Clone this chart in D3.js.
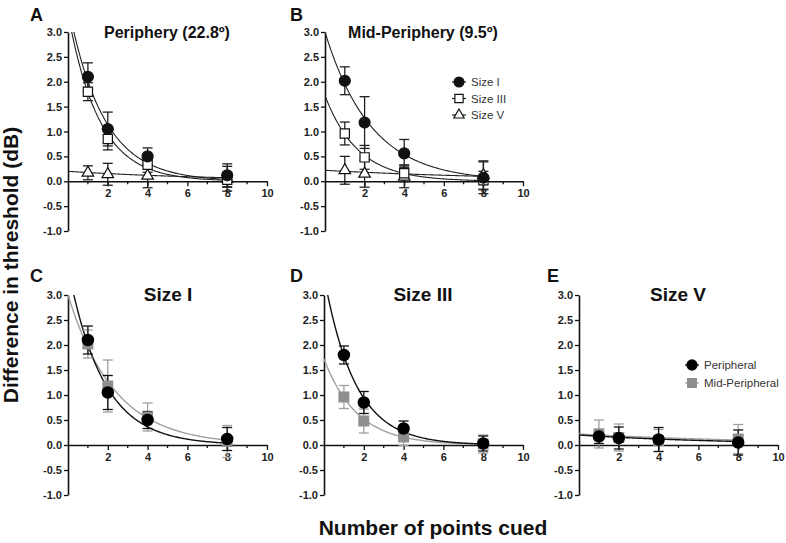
<!DOCTYPE html>
<html>
<head>
<meta charset="utf-8">
<script src="https://cdn.jsdelivr.net/npm/d3@7"></script>
<style>
  body { margin: 0; background: #fff; }
  svg { display: block; font-family: "Liberation Sans", Arial, sans-serif; }
</style>
</head>
<body>
<svg id="chart" width="786" height="543"></svg>
<script>
// number of points cued (x values of every series)
const pointsCued = [1, 2, 4, 8];
const sizeNames = ["Size I", "Size III", "Size V"];
const locNames = ["Peripheral", "Mid-Peripheral"];

// difference in threshold (dB), peripheral location (22.8 deg)
const periSizeI = [2.10, 1.05, 0.50, 0.12];
const periSizeIErr = [0.28, 0.34, 0.17, 0.23];
const periSizeIII = [1.80, 0.85, 0.33, 0.03];
const periSizeIIIErr = [0.18, 0.22, 0.15, 0.15];
const periSizeV = [0.17, 0.14, 0.11, 0.05];
const periSizeVErr = [0.14, 0.22, 0.24, 0.25];

// mid-peripheral location (9.5 deg)
const midSizeI = [2.02, 1.18, 0.56, 0.07];
const midSizeIErr = [0.28, 0.52, 0.28, 0.32];
const midSizeIII = [0.96, 0.48, 0.16, 0.02];
const midSizeIIIErr = [0.23, 0.24, 0.17, 0.18];
const midSizeV = [0.22, 0.15, 0.09, 0.12];
const midSizeVErr = [0.28, 0.27, 0.22, 0.29];

// one-phase decay fits  y = Y0 * exp(-K x), one entry per size
const periFitY0 = [3.55, 3.38, 0.20];
const periFitK = [0.57, 0.64, 0.13];
const midFitY0 = [3.00, 1.72, 0.22];
const midFitK = [0.43, 0.60, 0.10];

const yTickValues = [-1.0, -0.5, 0.0, 0.5, 1.0, 1.5, 2.0, 2.5, 3.0];
const xTickValues = [2, 4, 6, 8, 10];
const xMinorTicks = [1, 3, 5, 7, 9];

const svg = d3.select("#chart");

function makeSeries(loc, means, errs, y0s, ks) {
    return means.map((m, i) => ({
        loc: loc,
        size: i,
        name: sizeNames[i],
        points: pointsCued.map((x, j) => ({ x: x, y: m[j], e: errs[i][j] })),
        y0: y0s[i],
        k: ks[i]
    }));
}

const peri = makeSeries(0, [periSizeI, periSizeIII, periSizeV],
    [periSizeIErr, periSizeIIIErr, periSizeVErr], periFitY0, periFitK);
const mid = makeSeries(1, [midSizeI, midSizeIII, midSizeV],
    [midSizeIErr, midSizeIIIErr, midSizeVErr], midFitY0, midFitK);

// layout of the five panels
const panels = [
    { label: "A", title: "Periphery (22.8º)", xr: [68, 267], yr: [231, 32], lx: 30, ly: 21, tx: 167, ty: 38, tsize: 16,
      series: [peri[2], peri[1], peri[0]], mode: "size", legend: null },
    { label: "B", title: "Mid-Periphery (9.5º)", xr: [325, 523], yr: [231, 32], lx: 290, ly: 21, tx: 423, ty: 38, tsize: 16,
      series: [mid[2], mid[1], mid[0]], mode: "size", legend: { x: 459, y: 82, dy: 16.5, items: [mid[0], mid[1], mid[2]] } },
    { label: "C", title: "Size I", xr: [68, 267], yr: [495, 295], lx: 30, ly: 282, tx: 168, ty: 301, tsize: 19,
      series: [mid[0], peri[0]], mode: "loc", legend: null },
    { label: "D", title: "Size III", xr: [324, 523], yr: [495, 295], lx: 290, ly: 282, tx: 423, ty: 301, tsize: 19,
      series: [mid[1], peri[1]], mode: "loc", legend: null },
    { label: "E", title: "Size V", xr: [579, 778], yr: [495, 295], lx: 547, ly: 282, tx: 678, ty: 301, tsize: 19,
      series: [mid[2], peri[2]], mode: "loc", legend: { x: 692, y: 365, dy: 18, items: [peri[2], mid[2]] } }
];

const GRAY = "#8e8e8e";
const GRAY_LINE = "#a0a0a0";

function styleOf(s, mode) {
    if (mode === "size") {
        const shapes = [d3.symbolCircle, d3.symbolSquare, d3.symbolTriangle];
        const areas = [95, 85, 58];
        return {
            shape: shapes[s.size], area: areas[s.size],
            fill: s.size === 0 ? "#111" : "#fff", stroke: "#111",
            line: "#222", err: "#222", lw: 1.1
        };
    }
    if (s.loc === 0) {
        return { shape: d3.symbolCircle, area: 100, fill: "#000", stroke: "#000", line: "#111", err: "#111", lw: 1.4 };
    }
    return { shape: d3.symbolSquare, area: 95, fill: GRAY, stroke: GRAY, line: GRAY_LINE, err: GRAY_LINE, lw: 1.4 };
}

panels.forEach((p, pi) => {
    const x = d3.scaleLinear().domain([0, 10]).range(p.xr);
    const y = d3.scaleLinear().domain([-1, 3]).range(p.yr);
    const g = svg.append("g");

    // panel letter and title
    g.append("text").attr("x", p.lx).attr("y", p.ly)
        .attr("font-size", 18).attr("font-weight", "bold").attr("fill", "#111").text(p.label);
    g.append("text").attr("x", p.tx).attr("y", p.ty).attr("text-anchor", "middle")
        .attr("font-size", p.tsize).attr("font-weight", "bold").attr("fill", "#111").text(p.title);

    // axes
    const yAxis = d3.axisLeft(y).tickValues(yTickValues).tickSize(4).tickSizeOuter(0)
        .tickFormat(d => d.toFixed(1));
    const ya = g.append("g").attr("transform", `translate(${p.xr[0]},0)`).call(yAxis);

    const xAxis = d3.axisBottom(x).tickValues(xTickValues).tickSize(5).tickSizeOuter(0)
        .tickFormat(d3.format("d"));
    const xa = g.append("g").attr("transform", `translate(0,${y(0)})`).call(xAxis);
    xa.selectAll(".minor").data(xMinorTicks).enter().append("line")
        .attr("class", "minor").attr("x1", d => x(d)).attr("x2", d => x(d))
        .attr("y1", 0).attr("y2", 3).attr("stroke", "#111").attr("stroke-width", 1.3);

    [ya, xa].forEach(a => {
        a.attr("font-family", null).attr("font-size", null);
        a.select(".domain").attr("stroke", "#111").attr("stroke-width", 1.6);
        a.selectAll(".tick line").attr("stroke", "#111").attr("stroke-width", 1.3);
        a.selectAll(".tick text").attr("font-size", 11).attr("font-weight", "bold").attr("fill", "#222");
    });
    ya.selectAll(".tick text").attr("x", -6);
    xa.selectAll(".tick text").attr("y", 8);

    // fitted curves, clipped to the plotting area
    const clipId = "clip" + pi;
    g.append("clipPath").attr("id", clipId).append("rect")
        .attr("x", p.xr[0]).attr("y", p.yr[1])
        .attr("width", p.xr[1] - p.xr[0]).attr("height", p.yr[0] - p.yr[1]);
    const curveX = d3.range(0, 8.0001, 0.05);
    const line = d3.line().x(d => x(d[0])).y(d => y(d[1]));
    const curves = g.append("g").attr("clip-path", `url(#${clipId})`);
    p.series.forEach(s => {
        const st = styleOf(s, p.mode);
        curves.append("path")
            .datum(curveX.map(v => [v, s.y0 * Math.exp(-s.k * v)]))
            .attr("d", line).attr("fill", "none")
            .attr("stroke", st.line).attr("stroke-width", st.lw);
    });

    // error bars and markers
    p.series.forEach(s => {
        const st = styleOf(s, p.mode);
        const eb = g.append("g").attr("stroke", st.err).attr("stroke-width", 1.3);
        s.points.forEach(d => {
            const cx = x(d.x);
            eb.append("line").attr("x1", cx).attr("x2", cx).attr("y1", y(d.y - d.e)).attr("y2", y(d.y + d.e));
            [d.y - d.e, d.y + d.e].forEach(v => {
                eb.append("line").attr("x1", cx - 5).attr("x2", cx + 5).attr("y1", y(v)).attr("y2", y(v));
            });
        });
    });
    p.series.forEach(s => {
        const st = styleOf(s, p.mode);
        g.append("g").selectAll("path").data(s.points).enter().append("path")
            .attr("transform", d => `translate(${x(d.x)},${y(d.y)})`)
            .attr("d", d3.symbol().type(st.shape).size(st.area))
            .attr("fill", st.fill).attr("stroke", st.stroke).attr("stroke-width", 1.2);
    });

    // legend
    if (p.legend) {
        const lg = g.append("g");
        p.legend.items.forEach((s, i) => {
            const st = styleOf(s, p.mode);
            const ly = p.legend.y + i * p.legend.dy;
            lg.append("line").attr("x1", p.legend.x - 7).attr("x2", p.legend.x + 7)
                .attr("y1", ly).attr("y2", ly).attr("stroke", st.line).attr("stroke-width", 1.2);
            lg.append("path").attr("transform", `translate(${p.legend.x},${ly})`)
                .attr("d", d3.symbol().type(st.shape).size(st.area * 0.8))
                .attr("fill", st.fill).attr("stroke", st.stroke).attr("stroke-width", 1.2);
            lg.append("text").attr("x", p.legend.x + 12).attr("y", ly + 4)
                .attr("font-size", 11.5).attr("fill", "#333")
                .text(p.mode === "size" ? s.name : locNames[s.loc]);
        });
    }
});

// shared axis titles
svg.append("text")
    .attr("transform", "translate(18,265) rotate(-90)")
    .attr("text-anchor", "middle").attr("font-size", 21).attr("font-weight", "bold").attr("fill", "#111")
    .text("Difference in threshold (dB)");
svg.append("text")
    .attr("x", 433).attr("y", 535).attr("text-anchor", "middle")
    .attr("font-size", 21).attr("font-weight", "bold").attr("fill", "#111")
    .text("Number of points cued");
</script>
</body>
</html>
